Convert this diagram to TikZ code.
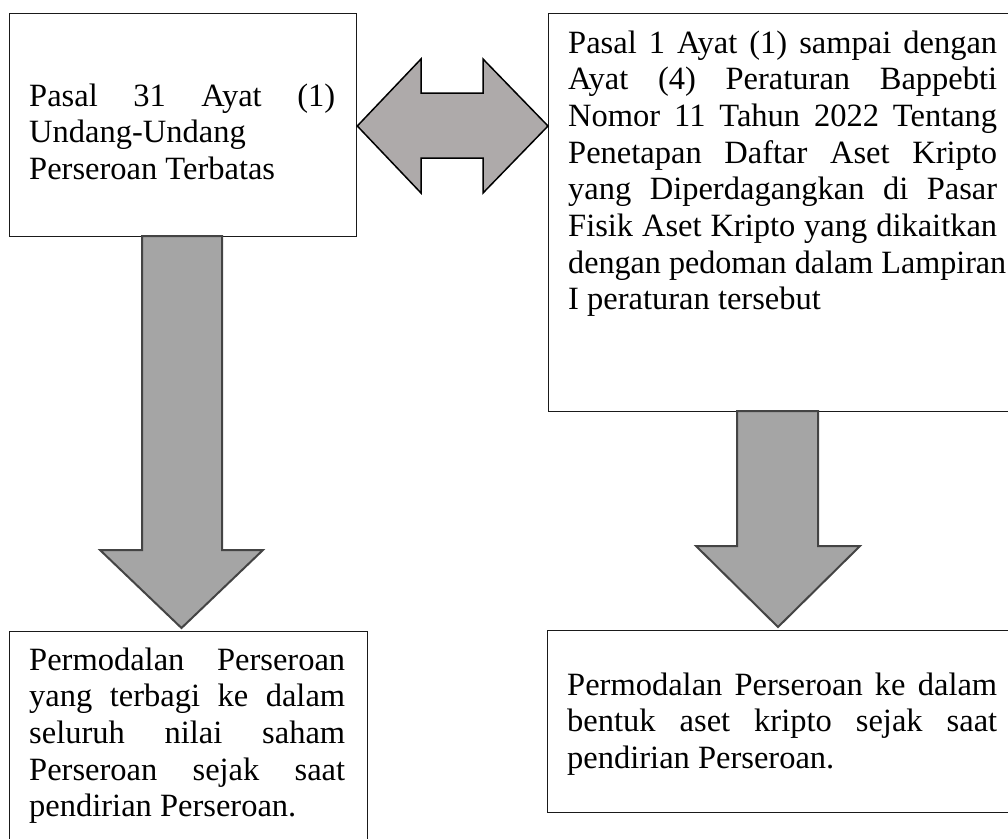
\documentclass[tikz,border=0pt]{standalone}
\usepackage{fontspec}
\setmainfont{Liberation Serif}
\usetikzlibrary{calc}

\definecolor{boxline}{HTML}{1A1A1A}
\definecolor{downfill}{HTML}{A5A5A5}
\definecolor{downline}{HTML}{444444}
\definecolor{linkfill}{HTML}{AEAAAA}

% one justified line (spaces stretched to the full width) / one line at natural width
\newcommand\jline[1]{\makebox[\linewidth][s]{#1}\par}
\newcommand\rline[1]{#1\par}
% one line squeezed to a given width
\newcommand\fitline[2]{\resizebox{#1}{\height}{#2}\par}

\begin{document}
\begin{tikzpicture}[x=1pt,y=-1pt,
  box/.style={draw=boxline, line width=1.3pt, inner sep=0pt, anchor=north west, fill=white},
  txt/.style={inner sep=0pt, anchor=base west, font=\fontsize{32.5}{36.7}\selectfont},
  downarrow/.style={fill=downfill, draw=downline, line width=2pt, line join=miter},
  linkarrow/.style={fill=linkfill, draw=black, line width=1.5pt, line join=miter}]
\useasboundingbox (0,0) rectangle (1008,838);
\clip (0,0) rectangle (1008,838);

% boxes
\node[box, minimum width=347pt, minimum height=223pt] (b1) at (9,13) {};
\node[box, minimum width=470pt, minimum height=398pt] (b2) at (548,13) {};
\node[box, minimum width=358pt, minimum height=220pt] (b3) at (9,631) {};
\node[box, minimum width=470pt, minimum height=182pt] (b4) at (547,630) {};

% texts
\node[txt] (t1) at (29,106) {\parbox[t]{306pt}{%
  \jline{Pasal 31 Ayat (1)}%
  \rline{Undang-Undang}%
  \rline{Perseroan Terbatas}}};
\node[txt] (t2) at (568,53) {\parbox[t]{429pt}{%
  \jline{Pasal 1 Ayat (1) sampai dengan}%
  \jline{Ayat (4) Peraturan Bappebti}%
  \jline{Nomor 11 Tahun 2022 Tentang}%
  \jline{Penetapan Daftar Aset Kripto}%
  \jline{yang Diperdagangkan di Pasar}%
  \jline{Fisik Aset Kripto yang dikaitkan}%
  \fitline{438pt}{dengan pedoman dalam Lampiran}%
  \rline{I peraturan tersebut}}};
\node[txt] (t3) at (29,670) {\parbox[t]{316pt}{%
  \jline{Permodalan Perseroan}%
  \jline{yang terbagi ke dalam}%
  \jline{seluruh nilai saham}%
  \jline{Perseroan sejak saat}%
  \rline{pendirian Perseroan.}}};
\node[txt] (t4) at (567,695) {\parbox[t]{430pt}{%
  \jline{Permodalan Perseroan ke dalam}%
  \jline{bentuk aset kripto sejak saat}%
  \rline{pendirian Perseroan.}}};

% double block arrow between the two upper boxes
\coordinate (lt) at (b1.east |- 0,126);
\coordinate (rt) at (b2.west |- 0,126);
\draw[linkarrow] (lt) -- (421,59) -- (421,93) -- (483,93) -- (483,59) -- (rt)
  -- (483,193) -- (483,158) -- (421,158) -- (421,193) -- cycle;

% block arrows pointing down
\coordinate (d1) at (181.5,628);
\draw[downarrow] (142,236) -- (222,236) -- (222,550) -- (263,550) -- (d1)
  -- (100,550) -- (142,550) -- cycle;
\coordinate (d2) at (778,627);
\draw[downarrow] (737,411) -- (818,411) -- (818,546) -- (860,546) -- (d2)
  -- (696,546) -- (737,546) -- cycle;
\end{tikzpicture}
\end{document}
